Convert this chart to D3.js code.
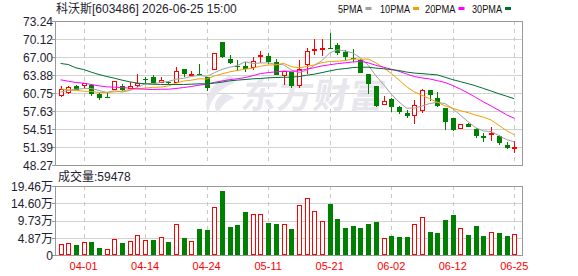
<!DOCTYPE html>
<html><head><meta charset="utf-8">
<script src="https://cdn.jsdelivr.net/npm/d3@7"></script>
<style>
body{margin:0;background:#fff}
svg{display:block}
text{font-family:"Liberation Sans","Noto Sans CJK SC",sans-serif}
</style>
</head><body>
<svg id="chart" width="578" height="276"></svg>
<script>
// ---------------- data ----------------
const title = "科沃斯[603486] 2026-06-25 15:00";
const dates = ["03-27","03-30","03-31","04-01","04-02","04-03","04-07","04-08","04-09","04-10",
  "04-13","04-14","04-15","04-16","04-17","04-20","04-21","04-22","04-23","04-24",
  "04-27","04-28","04-29","04-30","05-06","05-07","05-08","05-11","05-12","05-13",
  "05-14","05-15","05-18","05-19","05-20","05-21","05-22","05-25","05-26","05-27",
  "05-28","05-29","06-01","06-02","06-03","06-04","06-05","06-08","06-09","06-10",
  "06-11","06-12","06-15","06-16","06-17","06-18","06-22","06-23","06-24","06-25"];
const opens = [60.29,60.81,62.14,62.03,62.26,60.70,60.10,61.33,62.08,61.50,
  61.97,63.30,63.53,62.66,62.78,62.60,64.92,64.05,64.05,63.53,
  64.86,69.60,66.82,65.61,65.44,65.15,67.17,67.34,66.19,63.82,
  64.45,62.08,65.73,68.21,68.33,68.73,69.08,67.92,66.99,66.48,
  64.17,61.97,58.73,59.77,58.50,57.29,56.82,57.69,61.28,60.06,
  58.21,56.42,54.63,55.55,54.57,53.30,53.59,53.36,51.74,51.33];
const highs = [61.97,62.14,62.30,62.60,62.43,60.81,60.81,62.84,62.37,62.72,
  64.05,63.60,63.88,63.70,62.90,65.32,65.00,64.57,65.84,63.70,
  67.86,69.62,67.40,66.59,66.19,67.00,68.21,67.75,66.71,64.70,
  64.50,66.59,68.62,70.23,70.23,71.22,69.54,68.33,68.50,66.77,
  64.20,62.14,60.24,60.00,58.60,57.92,59.71,61.62,61.30,61.10,
  58.25,56.50,55.50,55.60,54.80,53.99,55.03,53.50,52.26,52.60];
const lows = [60.20,60.70,61.30,61.56,60.29,59.71,59.95,61.30,61.16,61.45,
  61.90,62.43,62.50,62.60,62.40,62.50,63.59,63.82,63.90,61.16,
  64.80,66.90,65.90,64.74,64.45,64.86,66.02,65.90,63.90,62.26,
  61.74,61.68,64.05,67.46,67.34,68.40,67.46,66.59,66.19,64.30,
  60.70,58.50,58.70,57.52,57.23,56.48,55.49,57.29,59.54,58.50,
  54.34,54.17,54.60,54.90,53.07,52.43,52.49,51.91,51.10,50.41];
const closes = [61.56,61.91,61.39,62.55,60.70,59.95,60.10,62.84,61.39,62.08,
  62.66,63.30,62.60,63.01,62.55,64.74,64.05,64.22,63.93,61.68,
  67.86,67.00,66.07,65.38,64.92,66.42,67.46,66.19,63.99,64.63,
  62.03,65.03,68.15,68.39,68.73,68.62,67.86,67.05,66.77,64.34,
  62.32,58.67,59.54,58.38,57.63,56.82,58.79,61.28,60.58,58.62,
  55.78,54.46,55.49,54.92,53.36,53.12,53.88,52.14,51.28,51.45];
const volumes = [31300,34200,29400,37000,38000,20900,17100,45600,34200,41800,
  57000,42700,42700,51300,37000,90200,49400,41800,75000,71200,
  136800,182300,79800,85500,122500,115900,115900,91200,88300,90200,
  74100,141500,161400,124400,95900,145300,102600,76900,82600,76900,
  88300,94000,50300,54100,51300,51300,90200,107300,65500,62700,
  99700,114000,78800,57000,82600,54100,67400,62700,54100,59478];
const ma5 = [61.00,61.30,61.50,61.60,61.62,61.30,60.94,61.23,61.00,61.27,
  61.81,62.45,62.41,62.73,62.82,63.24,63.39,63.71,63.90,63.72,
  64.35,64.94,65.31,65.60,66.25,65.96,66.05,66.07,65.80,65.74,
  64.86,64.37,64.77,65.65,66.47,67.78,68.35,68.13,67.81,66.93,
  65.67,63.83,62.33,60.65,59.31,58.21,58.23,58.58,59.02,59.22,
  59.01,58.14,56.99,55.85,54.80,54.27,54.15,53.48,52.76,52.37];
const ma10 = [61.56,61.39,61.28,61.16,61.10,60.93,60.93,61.04,61.16,61.45,
  61.56,61.70,61.82,61.86,62.05,62.53,62.92,63.06,63.31,63.27,
  63.79,64.16,64.51,64.75,64.99,65.15,65.49,65.69,65.70,65.99,
  65.41,65.21,65.42,65.72,66.10,66.32,66.36,66.45,66.73,66.70,
  66.73,66.09,65.23,64.23,63.12,61.94,61.03,60.45,59.84,59.26,
  58.61,58.19,57.78,57.44,57.01,56.64,56.15,55.24,54.31,53.59];
const ma20 = [63.13,62.89,62.66,62.55,62.32,62.08,61.91,61.85,61.79,61.68,
  61.56,61.50,61.45,61.50,61.50,61.62,61.79,61.97,62.20,62.36,
  62.68,62.93,63.16,63.31,63.52,63.84,64.21,64.38,64.51,64.63,
  64.60,64.69,64.97,65.23,65.54,65.74,65.93,66.07,66.21,66.34,
  66.07,65.65,65.32,64.97,64.61,64.13,63.70,63.45,63.28,62.98,
  62.67,62.14,61.51,60.83,60.06,59.29,58.59,57.84,57.07,56.43];
const ma30 = [65.96,65.78,65.20,64.92,64.45,64.05,63.70,63.41,63.07,62.78,
  62.55,62.43,62.37,62.32,62.32,62.32,62.32,62.37,62.43,62.43,
  62.55,62.72,62.95,63.07,63.18,63.30,63.36,63.47,63.53,63.57,
  63.59,63.69,63.92,64.11,64.38,64.67,64.93,65.07,65.25,65.32,
  65.31,65.16,65.05,64.90,64.74,64.47,64.30,64.20,64.09,63.98,
  63.58,63.16,62.81,62.46,62.08,61.63,61.18,60.71,60.29,59.85];
const priceTicks = [48.27,51.39,54.51,57.63,60.75,63.88,67.00,70.12,73.24];
const priceTickLabels = ["48.27","51.39","54.51","57.63","60.75","63.88","67.00","70.12","73.24"];
const volTicks = [0,48650,97300,145950,194600];
const volTickLabels = ["0","4.87万","9.73万","14.60万","19.46万"];
const xTickDates = ["04-01","04-14","04-24","05-11","05-21","06-02","06-12","06-25"];
const maNames = ["5PMA","10PMA","20PMA","30PMA"];
const volLabel = "成交量";

// ---------------- drawing ----------------
const svg = d3.select("#chart");
const C = {red:"#ff0000", green:"#008000", grid:"#d2d2d2", frame:"#999999", text:"#1e2230"};
const maColors = ["#a0a0a0","#f0a000","#ff00ff","#006e32"];

const L = 55, R = 522, T = 21, B = 165, VT = 186, VB = 255;
const x = d3.scaleBand().domain(dates).range([56.7, 518.1]).padding(0);
const cx = d => x(d) + x.bandwidth()/2;
const y = d3.scaleLinear().domain([48.27, 73.24]).range([B + 0.5, T + 0.5]);
const vy = d3.scaleLinear().domain([0, 194600]).range([VB + 0.5, VT + 0.5]);
const px = v => Math.round(v - 0.5) + 0.5;

// grids
const g = svg.append("g").attr("shape-rendering", "crispEdges");
priceTicks.forEach(t => {
  g.append("line").attr("x1", L).attr("x2", R).attr("y1", px(y(t))).attr("y2", px(y(t)))
    .attr("stroke", C.grid);
});
volTicks.forEach(t => {
  g.append("line").attr("x1", L).attr("x2", R).attr("y1", px(vy(t))).attr("y2", px(vy(t)))
    .attr("stroke", C.grid);
});
xTickDates.forEach(d => {
  const xx = Math.round(cx(d)) + 0.5;
  g.append("line").attr("x1", xx).attr("x2", xx).attr("y1", T).attr("y2", B)
    .attr("stroke", "#c8c8c8").attr("stroke-dasharray", "4,4");
  g.append("line").attr("x1", xx).attr("x2", xx).attr("y1", VT).attr("y2", VB)
    .attr("stroke", "#c8c8c8").attr("stroke-dasharray", "4,4");
});

// watermark
const wm = svg.append("g").attr("fill", "#e6e6ec");
wm.append("path").attr("d", "M232,75 C213,81 202,97 208,113 C210,100 218,89 234,83 Z");
wm.append("path").attr("d", "M223,94 C214,99 213,108 218,113 C221,106 226,101 234,98 C231,95 227,94 223,94 Z");
wm.append("text").attr("x", 240).attr("y", 108).attr("font-size", 35).attr("font-weight", "bold")
  .attr("font-family", "Noto Sans CJK SC, sans-serif").attr("letter-spacing", 1)
  .attr("transform", "translate(19,0) skewX(-10)").attr("fill", "#e6e6ec").text("东方财富");

// candles
const clip = svg.append("defs").append("clipPath").attr("id", "pc");
clip.append("rect").attr("x", L + 1).attr("y", T + 1).attr("width", R - L - 1).attr("height", B - T - 1);
const cg = svg.append("g").attr("clip-path", "url(#pc)").attr("shape-rendering", "crispEdges");
dates.forEach((d, i) => {
  const o = opens[i], c = closes[i], h = highs[i], l = lows[i];
  const X0 = Math.round(cx(d)) - 2;
  const wx = X0 + 2.5;
  const up = c > o;
  const top = Math.round(y(Math.max(o, c))), bot = Math.round(y(Math.min(o, c)));
  if (up) {
    cg.append("line").attr("x1", wx).attr("x2", wx).attr("y1", y(h)).attr("y2", top).attr("stroke", C.red);
    cg.append("line").attr("x1", wx).attr("x2", wx).attr("y1", bot).attr("y2", y(l)).attr("stroke", C.red);
    cg.append("rect").attr("x", X0 + 0.5).attr("y", top + 0.5).attr("width", 4)
      .attr("height", Math.max(1, bot - top - 1)).attr("fill", "#fff").attr("stroke", C.red);
  } else {
    cg.append("line").attr("x1", wx).attr("x2", wx).attr("y1", y(h)).attr("y2", y(l)).attr("stroke", C.green);
    cg.append("rect").attr("x", X0).attr("y", top).attr("width", 5)
      .attr("height", Math.max(1, bot - top)).attr("fill", C.green);
  }
});

// MA lines
const lineGen = arr => d3.line().x((d, i) => cx(dates[i])).y(d => y(d))(arr);
const mg = svg.append("g").attr("clip-path", "url(#pc)");
[ma5, ma10, ma20, ma30].forEach((arr, k) => {
  mg.append("path").attr("d", lineGen(arr)).attr("fill", "none")
    .attr("stroke", maColors[k]).attr("stroke-width", 1);
});

// volume bars
const vg = svg.append("g").attr("shape-rendering", "crispEdges");
dates.forEach((d, i) => {
  const X0 = Math.round(cx(d)) - 2;
  const top = Math.round(vy(volumes[i]));
  const base = VB;
  if (closes[i] >= opens[i]) {
    vg.append("rect").attr("x", X0 + 0.5).attr("y", top + 0.5).attr("width", 4)
      .attr("height", Math.max(1, base - top - 1)).attr("fill", "#fff").attr("stroke", C.red);
  } else {
    vg.append("rect").attr("x", X0).attr("y", top).attr("width", 5)
      .attr("height", base - top).attr("fill", C.green);
  }
});

// frames
const fg = svg.append("g").attr("shape-rendering", "crispEdges");
fg.append("rect").attr("x", L + 0.5).attr("y", T + 0.5).attr("width", R - L).attr("height", B - T)
  .attr("fill", "none").attr("stroke", C.frame);
fg.append("rect").attr("x", L + 0.5).attr("y", VT + 0.5).attr("width", R - L).attr("height", VB - VT)
  .attr("fill", "none").attr("stroke", C.frame);

// y axis ticks and labels (price)
const ax = svg.append("g");
priceTicks.forEach((t, i) => {
  ax.append("line").attr("x1", L - 3).attr("x2", L).attr("y1", px(y(t))).attr("y2", px(y(t)))
    .attr("stroke", C.frame).attr("shape-rendering", "crispEdges");
  ax.append("text").attr("x", L - 2).attr("y", y(t)).attr("dy", "0.36em")
    .attr("text-anchor", "end").attr("font-size", 12).attr("fill", C.text).text(priceTickLabels[i]);
});
// y axis ticks and labels (volume)
volTicks.forEach((t, i) => {
  ax.append("line").attr("x1", L - 3).attr("x2", L).attr("y1", px(vy(t))).attr("y2", px(vy(t)))
    .attr("stroke", C.frame).attr("shape-rendering", "crispEdges");
  ax.append("text").attr("x", L - 2).attr("y", vy(t)).attr("dy", "0.36em")
    .attr("text-anchor", "end").attr("font-size", 12).attr("fill", C.text).text(volTickLabels[i]);
});

// x axis labels
xTickDates.forEach(d => {
  ax.append("text").attr("x", cx(d)).attr("y", 270).attr("text-anchor", "middle")
    .attr("font-size", 11).attr("fill", C.red).text(d);
});

// title, legend, volume label
svg.append("text").attr("x", 56).attr("y", 13).attr("font-size", 12).attr("fill", C.text).text(title);
const legX = [338, 380, 425, 472], legW = [24.5, 30, 30.5, 30];
maNames.forEach((n, i) => {
  svg.append("text").attr("x", legX[i]).attr("y", 13).attr("font-size", 11)
    .attr("font-family", "Liberation Serif, serif").attr("fill", "#111")
    .attr("textLength", legW[i]).attr("lengthAdjust", "spacingAndGlyphs").text(n);
  svg.append("rect").attr("x", legX[i] + legW[i] + 3).attr("y", 7).attr("width", 6).attr("height", 3)
    .attr("fill", maColors[i]);
});
svg.append("text").attr("x", 58).attr("y", 181).attr("font-size", 12).attr("fill", C.text)
  .text(volLabel + ":" + volumes[volumes.length - 1]);
</script>
</body></html>
